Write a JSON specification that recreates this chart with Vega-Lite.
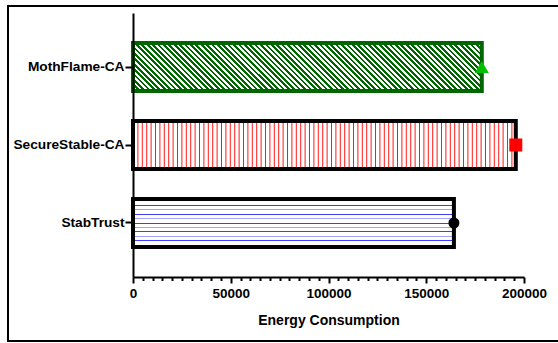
{
"$schema": "https://vega.github.io/schema/vega-lite/v6.json",
"width": 553,
"height": 335,
"autosize": "none",
"padding": {"left": 8, "top": 6, "right": -3, "bottom": 2},
"background": "white",
"config": {"view": {"stroke": "black", "strokeWidth": 2}, "font": "Liberation Sans"},
"data": {"values": [
{"method": "MothFlame-CA", "energy": 178400},
{"method": "SecureStable-CA", "energy": 195800},
{"method": "StabTrust", "energy": 164150}
]},
"encoding": {
"y": {"field": "method", "type": "nominal", "sort": ["MothFlame-CA", "SecureStable-CA", "StabTrust"],
 "scale": {"range": [7, 271], "paddingInner": 0.385, "paddingOuter": 0.385},
 "axis": {"orient": "left", "offset": -125, "title": null, "labelFont": "Liberation Sans", "labelFontSize": 13.7, "labelFontWeight": "bold", "labelColor": "black", "tickSize": 8, "tickWidth": 2, "tickColor": "black", "domainColor": "black", "domainWidth": 2, "labelPadding": 1, "zindex": 1, "grid": false}},
"x": {"field": "energy", "type": "quantitative",
 "scale": {"domain": [0, 200000], "range": [125, 516], "nice": false, "zero": true},
 "axis": {"orient": "bottom", "offset": -64, "values": [0,5000,10000,15000,20000,25000,30000,35000,40000,45000,50000,55000,60000,65000,70000,75000,80000,85000,90000,95000,100000,105000,110000,115000,120000,125000,130000,135000,140000,145000,150000,155000,160000,165000,170000,175000,180000,185000,190000,195000,200000],
 "format": "d", "labelExpr": "datum.value % 50000 === 0 ? datum.label : ''", "labelOverlap": false, "labelFlush": false,
 "tickSize": {"condition": {"test": "datum.value % 50000 === 0", "value": 6}, "value": 3.5},
 "tickWidth": 2, "tickColor": "black", "domainColor": "black", "domainWidth": 2,
 "labelFont": "Liberation Sans", "labelFontSize": 13.5, "labelFontWeight": "bold", "labelColor": "black", "labelPadding": 3,
 "title": "Energy Consumption", "titleFont": "Liberation Sans", "titleFontSize": 14, "titleFontWeight": "bold", "titleColor": "black", "titlePadding": 14,
 "grid": false, "zindex": 1}}
},
"layer": [
{"transform": [{"filter": "datum.method === 'MothFlame-CA'"}],
 "mark": {"type": "bar", "stroke": "#060", "strokeWidth": 4, "fill": {"gradient": "linear", "x1": 0, "y1": 1, "x2": 1.1165, "y2": 0.8464, "stops": [
{"offset":0,"color":"#060"},
{"offset":0.0068,"color":"#060"},{"offset":0.0068,"color":"#fff"},
{"offset":0.0136,"color":"#fff"},{"offset":0.0136,"color":"#060"},
{"offset":0.0204,"color":"#060"},{"offset":0.0204,"color":"#fff"},
{"offset":0.0272,"color":"#fff"},{"offset":0.0272,"color":"#060"},
{"offset":0.034,"color":"#060"},{"offset":0.034,"color":"#fff"},
{"offset":0.0408,"color":"#fff"},{"offset":0.0408,"color":"#060"},
{"offset":0.0476,"color":"#060"},{"offset":0.0476,"color":"#fff"},
{"offset":0.0544,"color":"#fff"},{"offset":0.0544,"color":"#060"},
{"offset":0.0612,"color":"#060"},{"offset":0.0612,"color":"#fff"},
{"offset":0.068,"color":"#fff"},{"offset":0.068,"color":"#060"},
{"offset":0.0748,"color":"#060"},{"offset":0.0748,"color":"#fff"},
{"offset":0.0816,"color":"#fff"},{"offset":0.0816,"color":"#060"},
{"offset":0.0884,"color":"#060"},{"offset":0.0884,"color":"#fff"},
{"offset":0.0952,"color":"#fff"},{"offset":0.0952,"color":"#060"},
{"offset":0.102,"color":"#060"},{"offset":0.102,"color":"#fff"},
{"offset":0.1088,"color":"#fff"},{"offset":0.1088,"color":"#060"},
{"offset":0.1156,"color":"#060"},{"offset":0.1156,"color":"#fff"},
{"offset":0.1224,"color":"#fff"},{"offset":0.1224,"color":"#060"},
{"offset":0.1292,"color":"#060"},{"offset":0.1292,"color":"#fff"},
{"offset":0.136,"color":"#fff"},{"offset":0.136,"color":"#060"},
{"offset":0.1428,"color":"#060"},{"offset":0.1428,"color":"#fff"},
{"offset":0.1496,"color":"#fff"},{"offset":0.1496,"color":"#060"},
{"offset":0.1564,"color":"#060"},{"offset":0.1564,"color":"#fff"},
{"offset":0.1632,"color":"#fff"},{"offset":0.1632,"color":"#060"},
{"offset":0.17,"color":"#060"},{"offset":0.17,"color":"#fff"},
{"offset":0.1768,"color":"#fff"},{"offset":0.1768,"color":"#060"},
{"offset":0.1836,"color":"#060"},{"offset":0.1836,"color":"#fff"},
{"offset":0.1904,"color":"#fff"},{"offset":0.1904,"color":"#060"},
{"offset":0.1972,"color":"#060"},{"offset":0.1972,"color":"#fff"},
{"offset":0.204,"color":"#fff"},{"offset":0.204,"color":"#060"},
{"offset":0.2108,"color":"#060"},{"offset":0.2108,"color":"#fff"},
{"offset":0.2176,"color":"#fff"},{"offset":0.2176,"color":"#060"},
{"offset":0.2244,"color":"#060"},{"offset":0.2244,"color":"#fff"},
{"offset":0.2312,"color":"#fff"},{"offset":0.2312,"color":"#060"},
{"offset":0.238,"color":"#060"},{"offset":0.238,"color":"#fff"},
{"offset":0.2448,"color":"#fff"},{"offset":0.2448,"color":"#060"},
{"offset":0.2516,"color":"#060"},{"offset":0.2516,"color":"#fff"},
{"offset":0.2584,"color":"#fff"},{"offset":0.2584,"color":"#060"},
{"offset":0.2652,"color":"#060"},{"offset":0.2652,"color":"#fff"},
{"offset":0.272,"color":"#fff"},{"offset":0.272,"color":"#060"},
{"offset":0.2788,"color":"#060"},{"offset":0.2788,"color":"#fff"},
{"offset":0.2856,"color":"#fff"},{"offset":0.2856,"color":"#060"},
{"offset":0.2924,"color":"#060"},{"offset":0.2924,"color":"#fff"},
{"offset":0.2992,"color":"#fff"},{"offset":0.2992,"color":"#060"},
{"offset":0.306,"color":"#060"},{"offset":0.306,"color":"#fff"},
{"offset":0.3128,"color":"#fff"},{"offset":0.3128,"color":"#060"},
{"offset":0.3196,"color":"#060"},{"offset":0.3196,"color":"#fff"},
{"offset":0.3264,"color":"#fff"},{"offset":0.3264,"color":"#060"},
{"offset":0.3332,"color":"#060"},{"offset":0.3332,"color":"#fff"},
{"offset":0.34,"color":"#fff"},{"offset":0.34,"color":"#060"},
{"offset":0.3468,"color":"#060"},{"offset":0.3468,"color":"#fff"},
{"offset":0.3536,"color":"#fff"},{"offset":0.3536,"color":"#060"},
{"offset":0.3604,"color":"#060"},{"offset":0.3604,"color":"#fff"},
{"offset":0.3672,"color":"#fff"},{"offset":0.3672,"color":"#060"},
{"offset":0.374,"color":"#060"},{"offset":0.374,"color":"#fff"},
{"offset":0.3808,"color":"#fff"},{"offset":0.3808,"color":"#060"},
{"offset":0.3876,"color":"#060"},{"offset":0.3876,"color":"#fff"},
{"offset":0.3944,"color":"#fff"},{"offset":0.3944,"color":"#060"},
{"offset":0.4012,"color":"#060"},{"offset":0.4012,"color":"#fff"},
{"offset":0.408,"color":"#fff"},{"offset":0.408,"color":"#060"},
{"offset":0.4148,"color":"#060"},{"offset":0.4148,"color":"#fff"},
{"offset":0.4216,"color":"#fff"},{"offset":0.4216,"color":"#060"},
{"offset":0.4284,"color":"#060"},{"offset":0.4284,"color":"#fff"},
{"offset":0.4352,"color":"#fff"},{"offset":0.4352,"color":"#060"},
{"offset":0.442,"color":"#060"},{"offset":0.442,"color":"#fff"},
{"offset":0.4488,"color":"#fff"},{"offset":0.4488,"color":"#060"},
{"offset":0.4556,"color":"#060"},{"offset":0.4556,"color":"#fff"},
{"offset":0.4624,"color":"#fff"},{"offset":0.4624,"color":"#060"},
{"offset":0.4692,"color":"#060"},{"offset":0.4692,"color":"#fff"},
{"offset":0.476,"color":"#fff"},{"offset":0.476,"color":"#060"},
{"offset":0.4828,"color":"#060"},{"offset":0.4828,"color":"#fff"},
{"offset":0.4896,"color":"#fff"},{"offset":0.4896,"color":"#060"},
{"offset":0.4964,"color":"#060"},{"offset":0.4964,"color":"#fff"},
{"offset":0.5032,"color":"#fff"},{"offset":0.5032,"color":"#060"},
{"offset":0.51,"color":"#060"},{"offset":0.51,"color":"#fff"},
{"offset":0.5168,"color":"#fff"},{"offset":0.5168,"color":"#060"},
{"offset":0.5236,"color":"#060"},{"offset":0.5236,"color":"#fff"},
{"offset":0.5304,"color":"#fff"},{"offset":0.5304,"color":"#060"},
{"offset":0.5372,"color":"#060"},{"offset":0.5372,"color":"#fff"},
{"offset":0.544,"color":"#fff"},{"offset":0.544,"color":"#060"},
{"offset":0.5508,"color":"#060"},{"offset":0.5508,"color":"#fff"},
{"offset":0.5576,"color":"#fff"},{"offset":0.5576,"color":"#060"},
{"offset":0.5644,"color":"#060"},{"offset":0.5644,"color":"#fff"},
{"offset":0.5712,"color":"#fff"},{"offset":0.5712,"color":"#060"},
{"offset":0.578,"color":"#060"},{"offset":0.578,"color":"#fff"},
{"offset":0.5848,"color":"#fff"},{"offset":0.5848,"color":"#060"},
{"offset":0.5916,"color":"#060"},{"offset":0.5916,"color":"#fff"},
{"offset":0.5984,"color":"#fff"},{"offset":0.5984,"color":"#060"},
{"offset":0.6052,"color":"#060"},{"offset":0.6052,"color":"#fff"},
{"offset":0.612,"color":"#fff"},{"offset":0.612,"color":"#060"},
{"offset":0.6188,"color":"#060"},{"offset":0.6188,"color":"#fff"},
{"offset":0.6256,"color":"#fff"},{"offset":0.6256,"color":"#060"},
{"offset":0.6324,"color":"#060"},{"offset":0.6324,"color":"#fff"},
{"offset":0.6392,"color":"#fff"},{"offset":0.6392,"color":"#060"},
{"offset":0.646,"color":"#060"},{"offset":0.646,"color":"#fff"},
{"offset":0.6528,"color":"#fff"},{"offset":0.6528,"color":"#060"},
{"offset":0.6596,"color":"#060"},{"offset":0.6596,"color":"#fff"},
{"offset":0.6664,"color":"#fff"},{"offset":0.6664,"color":"#060"},
{"offset":0.6732,"color":"#060"},{"offset":0.6732,"color":"#fff"},
{"offset":0.68,"color":"#fff"},{"offset":0.68,"color":"#060"},
{"offset":0.6868,"color":"#060"},{"offset":0.6868,"color":"#fff"},
{"offset":0.6936,"color":"#fff"},{"offset":0.6936,"color":"#060"},
{"offset":0.7004,"color":"#060"},{"offset":0.7004,"color":"#fff"},
{"offset":0.7072,"color":"#fff"},{"offset":0.7072,"color":"#060"},
{"offset":0.714,"color":"#060"},{"offset":0.714,"color":"#fff"},
{"offset":0.7208,"color":"#fff"},{"offset":0.7208,"color":"#060"},
{"offset":0.7276,"color":"#060"},{"offset":0.7276,"color":"#fff"},
{"offset":0.7344,"color":"#fff"},{"offset":0.7344,"color":"#060"},
{"offset":0.7412,"color":"#060"},{"offset":0.7412,"color":"#fff"},
{"offset":0.748,"color":"#fff"},{"offset":0.748,"color":"#060"},
{"offset":0.7548,"color":"#060"},{"offset":0.7548,"color":"#fff"},
{"offset":0.7616,"color":"#fff"},{"offset":0.7616,"color":"#060"},
{"offset":0.7684,"color":"#060"},{"offset":0.7684,"color":"#fff"},
{"offset":0.7752,"color":"#fff"},{"offset":0.7752,"color":"#060"},
{"offset":0.782,"color":"#060"},{"offset":0.782,"color":"#fff"},
{"offset":0.7888,"color":"#fff"},{"offset":0.7888,"color":"#060"},
{"offset":0.7956,"color":"#060"},{"offset":0.7956,"color":"#fff"},
{"offset":0.8024,"color":"#fff"},{"offset":0.8024,"color":"#060"},
{"offset":0.8092,"color":"#060"},{"offset":0.8092,"color":"#fff"},
{"offset":0.816,"color":"#fff"},{"offset":0.816,"color":"#060"},
{"offset":0.8228,"color":"#060"},{"offset":0.8228,"color":"#fff"},
{"offset":0.8296,"color":"#fff"},{"offset":0.8296,"color":"#060"},
{"offset":0.8364,"color":"#060"},{"offset":0.8364,"color":"#fff"},
{"offset":0.8432,"color":"#fff"},{"offset":0.8432,"color":"#060"},
{"offset":0.85,"color":"#060"},{"offset":0.85,"color":"#fff"},
{"offset":0.8568,"color":"#fff"},{"offset":0.8568,"color":"#060"},
{"offset":0.8636,"color":"#060"},{"offset":0.8636,"color":"#fff"},
{"offset":0.8704,"color":"#fff"},{"offset":0.8704,"color":"#060"},
{"offset":0.8772,"color":"#060"},{"offset":0.8772,"color":"#fff"},
{"offset":0.884,"color":"#fff"},{"offset":0.884,"color":"#060"},
{"offset":0.8908,"color":"#060"},{"offset":0.8908,"color":"#fff"},
{"offset":0.8976,"color":"#fff"},{"offset":0.8976,"color":"#060"},
{"offset":0.9044,"color":"#060"},{"offset":0.9044,"color":"#fff"},
{"offset":0.9112,"color":"#fff"},{"offset":0.9112,"color":"#060"},
{"offset":0.918,"color":"#060"},{"offset":0.918,"color":"#fff"},
{"offset":0.9248,"color":"#fff"},{"offset":0.9248,"color":"#060"},
{"offset":0.9316,"color":"#060"},{"offset":0.9316,"color":"#fff"},
{"offset":0.9384,"color":"#fff"},{"offset":0.9384,"color":"#060"},
{"offset":0.9452,"color":"#060"},{"offset":0.9452,"color":"#fff"},
{"offset":0.952,"color":"#fff"},{"offset":0.952,"color":"#060"},
{"offset":0.9588,"color":"#060"},{"offset":0.9588,"color":"#fff"},
{"offset":0.9656,"color":"#fff"},{"offset":0.9656,"color":"#060"},
{"offset":0.9724,"color":"#060"},{"offset":0.9724,"color":"#fff"},
{"offset":0.9792,"color":"#fff"},{"offset":0.9792,"color":"#060"},
{"offset":0.986,"color":"#060"},{"offset":0.986,"color":"#fff"},
{"offset":0.9928,"color":"#fff"},{"offset":0.9928,"color":"#060"},
{"offset":0.9996,"color":"#060"},{"offset":0.9996,"color":"#fff"},
{"offset":1,"color":"#fff"}
 ]}}},
{"transform": [{"filter": "datum.method === 'SecureStable-CA'"}],
 "mark": {"type": "rule", "color": "#ff1a1a", "strokeWidth": 44, "strokeDash": [1, 3.4], "strokeCap": "butt"},
 "encoding": {"x": {"datum": 0, "type": "quantitative"}, "x2": {"field": "energy"}}},
{"transform": [{"filter": "datum.method === 'SecureStable-CA'"}],
 "mark": {"type": "bar", "stroke": "black", "strokeWidth": 4, "fill": "white", "fillOpacity": 0}},
{"transform": [{"filter": "datum.method === 'StabTrust'"}],
 "mark": {"type": "rule", "color": "#3c3cff", "strokeWidth": 1, "yOffset": -17.5},
 "encoding": {"x": {"datum": 0, "type": "quantitative"}, "x2": {"field": "energy"}}},
{"transform": [{"filter": "datum.method === 'StabTrust'"}],
 "mark": {"type": "rule", "color": "#a0a0ff", "strokeWidth": 1, "yOffset": -13.5},
 "encoding": {"x": {"datum": 0, "type": "quantitative"}, "x2": {"field": "energy"}}},
{"transform": [{"filter": "datum.method === 'StabTrust'"}],
 "mark": {"type": "rule", "color": "#3c3cff", "strokeWidth": 1, "yOffset": -8.5},
 "encoding": {"x": {"datum": 0, "type": "quantitative"}, "x2": {"field": "energy"}}},
{"transform": [{"filter": "datum.method === 'StabTrust'"}],
 "mark": {"type": "rule", "color": "#a0a0ff", "strokeWidth": 1, "yOffset": -4.5},
 "encoding": {"x": {"datum": 0, "type": "quantitative"}, "x2": {"field": "energy"}}},
{"transform": [{"filter": "datum.method === 'StabTrust'"}],
 "mark": {"type": "rule", "color": "#3c3cff", "strokeWidth": 1, "yOffset": 0.5},
 "encoding": {"x": {"datum": 0, "type": "quantitative"}, "x2": {"field": "energy"}}},
{"transform": [{"filter": "datum.method === 'StabTrust'"}],
 "mark": {"type": "rule", "color": "#a0a0ff", "strokeWidth": 1, "yOffset": 4.5},
 "encoding": {"x": {"datum": 0, "type": "quantitative"}, "x2": {"field": "energy"}}},
{"transform": [{"filter": "datum.method === 'StabTrust'"}],
 "mark": {"type": "rule", "color": "#3c3cff", "strokeWidth": 1, "yOffset": 8.5},
 "encoding": {"x": {"datum": 0, "type": "quantitative"}, "x2": {"field": "energy"}}},
{"transform": [{"filter": "datum.method === 'StabTrust'"}],
 "mark": {"type": "rule", "color": "#a0a0ff", "strokeWidth": 1, "yOffset": 13.5},
 "encoding": {"x": {"datum": 0, "type": "quantitative"}, "x2": {"field": "energy"}}},
{"transform": [{"filter": "datum.method === 'StabTrust'"}],
 "mark": {"type": "rule", "color": "#3c3cff", "strokeWidth": 1, "yOffset": 17.5},
 "encoding": {"x": {"datum": 0, "type": "quantitative"}, "x2": {"field": "energy"}}},
{"transform": [{"filter": "datum.method === 'StabTrust'"}],
 "mark": {"type": "bar", "stroke": "black", "strokeWidth": 4, "fill": "white", "fillOpacity": 0}},
{"transform": [{"filter": "datum.method === 'MothFlame-CA'"}],
 "mark": {"type": "point", "shape": "triangle-up", "filled": true, "color": "#00c000", "opacity": 1, "size": 196}},
{"transform": [{"filter": "datum.method === 'SecureStable-CA'"}],
 "mark": {"type": "point", "shape": "square", "filled": true, "color": "#ff0000", "opacity": 1, "size": 169}},
{"transform": [{"filter": "datum.method === 'StabTrust'"}],
 "mark": {"type": "point", "shape": "circle", "filled": true, "color": "#000000", "opacity": 1, "size": 121}}
]
}
